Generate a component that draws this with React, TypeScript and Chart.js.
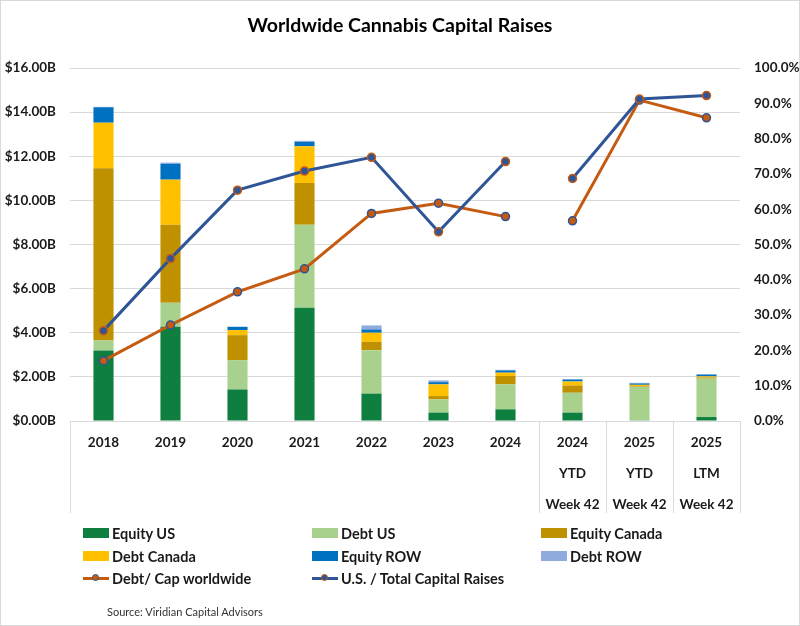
import React, { useEffect, useRef } from "react";
import { Chart, registerables } from "chart.js";

Chart.register(...registerables);

const categories: string[][] = [
  ["2018"], ["2019"], ["2020"], ["2021"], ["2022"], ["2023"], ["2024"],
  ["2024", "YTD", "Week 42"], ["2025", "YTD", "Week 42"], ["2025", "LTM", "Week 42"],
];

const equityUS = [3.20, 4.27, 1.43, 5.13, 1.24, 0.38, 0.53, 0.38, 0.03, 0.18];
const debtUS = [0.45, 1.09, 1.33, 3.77, 1.97, 0.60, 1.13, 0.90, 1.52, 1.74];
const equityCanada = [7.81, 3.53, 1.13, 1.89, 0.38, 0.15, 0.38, 0.33, 0.03, 0.05];
const debtCanada = [2.06, 2.05, 0.23, 1.66, 0.41, 0.53, 0.15, 0.18, 0.06, 0.05];
const equityROW = [0.70, 0.72, 0.14, 0.20, 0.15, 0.10, 0.10, 0.09, 0.06, 0.08];
const debtROW = [0.02, 0.05, 0.02, 0.05, 0.18, 0.08, 0.03, 0.02, 0.03, 0.03];

const debtToCap = [17.1, 27.2, 36.6, 43.1, 58.8, 61.7, 57.9, 56.7, 90.9, 85.9];
const usToTotal = [25.6, 46.0, 65.4, 70.8, 74.7, 53.6, 73.5, 68.7, 91.2, 92.2];

const leftTicks = [0, 2, 4, 6, 8, 10, 12, 14, 16];
const rightTicks = [0, 10, 20, 30, 40, 50, 60, 70, 80, 90, 100];

const C = {
  equityUS: "#0E7F3E",
  debtUS: "#A9D18E",
  equityCanada: "#BF9000",
  debtCanada: "#FFC000",
  equityROW: "#0070C0",
  debtROW: "#8FAADC",
  orange: "#C55A11",
  blue: "#2F5597",
};

const FONT = "Lato, 'Open Sans', sans-serif";
const GRID = "#D9D9D9";
const TEXT = "#1a1a1a";
// break in the lines between the annual series and the YTD series
const BREAK_AFTER = 6;

const barSeries = [
  { label: "Equity US", data: equityUS, color: C.equityUS },
  { label: "Debt US", data: debtUS, color: C.debtUS },
  { label: "Equity Canada", data: equityCanada, color: C.equityCanada },
  { label: "Debt Canada", data: debtCanada, color: C.debtCanada },
  { label: "Equity ROW", data: equityROW, color: C.equityROW },
  { label: "Debt ROW", data: debtROW, color: C.debtROW },
];

const lineSeries = [
  { label: "Debt/ Cap worldwide", data: debtToCap, color: C.orange, marker: C.blue, order: 1 },
  { label: "U.S. / Total Capital Raises", data: usToTotal, color: C.blue, marker: C.orange, order: 0 },
];

const separatorPlugin = {
  id: "separators",
  afterDraw(chart: any) {
    const x = chart.scales.x;
    const area = chart.chartArea;
    const ctx = chart.ctx;
    const xs: number[] = [area.left, area.right];
    for (let i = BREAK_AFTER; i < categories.length - 1; i++) {
      xs.push((x.getPixelForValue(i) + x.getPixelForValue(i + 1)) / 2);
    }
    ctx.save();
    ctx.strokeStyle = GRID;
    ctx.lineWidth = 1;
    xs.forEach((px) => {
      ctx.beginPath();
      ctx.moveTo(Math.round(px) + 0.5, area.bottom);
      ctx.lineTo(Math.round(px) + 0.5, area.bottom + 92);
      ctx.stroke();
    });
    ctx.restore();
  },
};

export default function App() {
  const ref = useRef<HTMLCanvasElement | null>(null);

  useEffect(() => {
    if (!ref.current) return;
    const datasets: any[] = [];
    lineSeries.forEach((s) => {
      datasets.push({
        type: "line",
        label: s.label,
        data: s.data,
        yAxisID: "y1",
        order: s.order,
        borderColor: s.color,
        borderWidth: 3,
        pointRadius: 4,
        pointBorderWidth: 1.5,
        pointBackgroundColor: s.color,
        pointBorderColor: s.marker,
        tension: 0,
        segment: {
          borderColor: (ctx: any) => (ctx.p0DataIndex === BREAK_AFTER ? "rgba(0,0,0,0)" : s.color),
        },
      });
    });
    barSeries.forEach((s) => {
      datasets.push({
        type: "bar",
        label: s.label,
        data: s.data,
        yAxisID: "y",
        order: 5,
        backgroundColor: s.color,
        borderWidth: 0,
        categoryPercentage: 1,
        barPercentage: 0.3,
      });
    });

    const chart = new Chart(ref.current, {
      type: "bar",
      data: { labels: categories, datasets },
      plugins: [separatorPlugin],
      options: {
        animation: false,
        responsive: false,
        maintainAspectRatio: false,
        layout: { padding: { top: 68, left: 0, right: 0, bottom: 0 } },
        plugins: {
          legend: { display: false },
          title: { display: false },
          tooltip: { enabled: false },
        },
        scales: {
          x: {
            stacked: true,
            grid: { display: false, drawTicks: false },
            border: { display: true, color: GRID, width: 1 },
            ticks: {
              autoSkip: false,
              maxRotation: 0,
              minRotation: 0,
              padding: 6,
              color: TEXT,
              font: { family: FONT, size: 13.5, weight: "bold", lineHeight: 2.3 },
            },
            afterFit: (scale: any) => {
              scale.height = 205;
            },
          },
          y: {
            stacked: true,
            position: "left",
            min: leftTicks[0],
            max: leftTicks[leftTicks.length - 1],
            afterBuildTicks: (scale: any) => {
              scale.ticks = leftTicks.map((v) => ({ value: v }));
            },
            grid: { color: GRID, drawTicks: false, lineWidth: 1 },
            border: { display: false },
            ticks: {
              padding: 14,
              color: TEXT,
              font: { family: FONT, size: 13.5, weight: "bold" },
              callback: (v: any) => `$${Number(v).toFixed(2)}B`,
            },
            afterFit: (scale: any) => {
              scale.width = 70;
            },
          },
          y1: {
            position: "right",
            min: rightTicks[0],
            max: rightTicks[rightTicks.length - 1],
            afterBuildTicks: (scale: any) => {
              scale.ticks = rightTicks.map((v) => ({ value: v }));
            },
            grid: { display: false, drawTicks: false },
            border: { display: false },
            ticks: {
              padding: 14,
              color: TEXT,
              font: { family: FONT, size: 13.5, weight: "bold" },
              callback: (v: any) => `${Number(v).toFixed(1)}%`,
            },
            afterFit: (scale: any) => {
              scale.width = 60;
            },
          },
        },
      } as any,
    });
    return () => chart.destroy();
  }, []);

  const legendItems = [
    ...barSeries.map((s) => ({ label: s.label, color: s.color, line: false, marker: "" })),
    ...lineSeries.map((s) => ({ label: s.label, color: s.color, line: true, marker: s.marker })),
  ];
  const colX = [83, 312, 541];
  const rowY = [533, 556, 578];

  return (
    <div
      style={{
        position: "absolute",
        left: 0,
        top: 0,
        width: 800,
        height: 626,
        background: "#fff",
        overflow: "hidden",
        fontFamily: FONT,
      }}
    >
      <canvas ref={ref} width={800} height={626} style={{ position: "absolute", left: 0, top: 0, width: 800, height: 626 }} />
      <div
        style={{
          position: "absolute",
          left: 0,
          top: 11,
          width: 800,
          textAlign: "center",
          fontSize: 19.5,
          fontWeight: "bold",
          color: "#000",
          lineHeight: "28px",
        }}
      >
        Worldwide Cannabis Capital Raises
      </div>
      {legendItems.map((it, i) => {
        const cx = colX[i % 3];
        const cy = rowY[Math.floor(i / 3)];
        return (
          <div key={it.label} style={{ position: "absolute", left: cx, top: cy - 10, height: 20, display: "flex", alignItems: "center" }}>
            {it.line ? (
              <div style={{ position: "relative", width: 26, height: 10 }}>
                <div style={{ position: "absolute", left: 0, top: 3.5, width: 26, height: 3, background: it.color }} />
                <div
                  style={{
                    position: "absolute",
                    left: 9,
                    top: 1,
                    width: 5,
                    height: 5,
                    borderRadius: "50%",
                    background: it.color,
                    border: `1.5px solid ${it.marker}`,
                  }}
                />
              </div>
            ) : (
              <div style={{ width: 26, height: 10, background: it.color }} />
            )}
            <span style={{ marginLeft: 3, fontSize: 14.5, fontWeight: "bold", color: TEXT, whiteSpace: "nowrap" }}>{it.label}</span>
          </div>
        );
      })}
      <div style={{ position: "absolute", left: 107, top: 605, fontSize: 11, color: "#333", whiteSpace: "nowrap" }}>
        Source: Viridian Capital Advisors
      </div>
      <div
        style={{
          position: "absolute",
          left: 0,
          top: 0,
          width: 800,
          height: 626,
          boxSizing: "border-box",
          border: `1px solid ${GRID}`,
          pointerEvents: "none",
        }}
      />
    </div>
  );
}
